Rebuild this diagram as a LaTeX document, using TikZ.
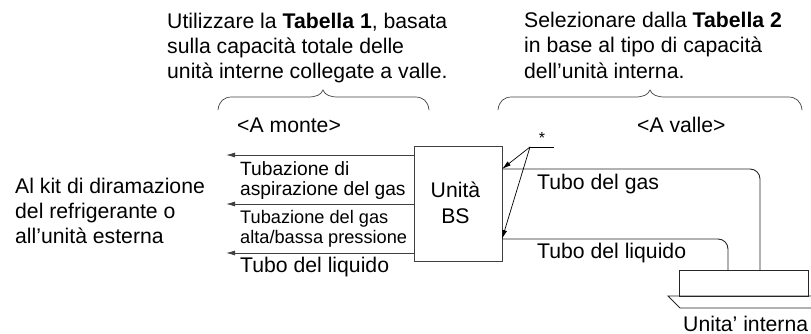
\documentclass[tikz,border=0pt]{standalone}
\usepackage{fontspec}
\setmainfont{Liberation Sans}
\usetikzlibrary{arrows.meta}
\tikzset{
  x=1pt,y=-1pt,
  pipe/.style={draw=black!75,line width=0.9pt},
  flow/.style={pipe,-{Latex[length=9pt,width=5pt]}},
  leader/.style={draw=black,line width=0.7pt,-{Latex[length=9pt,width=5pt]}},
  brace/.style={draw=black!75,line width=0.7pt,rounded corners=0pt},
  lab/.style={inner sep=0pt,anchor=base west,font=\fontsize{21.2}{25}\selectfont},
  multi/.style={inner sep=0pt,anchor=north west,align=left,font=\fontsize{21.2}{25.3}\selectfont},
  smallm/.style={inner sep=0pt,anchor=north west,align=left,font=\fontsize{19.2}{20}\selectfont},
  smallerm/.style={inner sep=0pt,anchor=north west,align=left,font=\fontsize{18.2}{20}\selectfont},
}
\begin{document}
\begin{tikzpicture}
\useasboundingbox (0,0) rectangle (811,334);
% top texts
\node[multi] (t1) at (167,12.5) {Utilizzare la \textbf{Tabella 1}, basata\\sulla capacità totale delle\\unità interne collegate a valle.};
\node[multi] (t2) at (524,12) {Selezionare dalla \textbf{Tabella 2}\\in base al tipo di capacità\\dell’unità interna.};
% braces
\draw[brace] (218,110) .. controls (219,101) and (224,97) .. (232,97) -- (308,97)
  .. controls (316,97) and (321,95) .. (323,90) .. controls (325,95) and (330,97) .. (338,97)
  -- (415,97) .. controls (423,97) and (428,101) .. (429,110);
\draw[brace] (498,110) .. controls (499,101) and (504,97) .. (512,97) -- (635,97)
  .. controls (643,97) and (648,95) .. (650,90) .. controls (652,95) and (657,97) .. (665,97)
  -- (788,97) .. controls (796,97) and (801,101) .. (802,110);
\node[lab] (monte) at (237,132) {<A monte>};
\node[lab] (valle) at (637,132) {<A valle>};
% box
\node[draw=black!75,line width=0.9pt,minimum width=88pt,minimum height=115pt,inner sep=0pt,anchor=north west] (bs) at (414,146) {};
\node[inner sep=0pt,align=center,font=\fontsize{21.2}{26}\selectfont] (bslabel) at ([xshift=-3pt,yshift=1pt]bs.center) {Unità\\BS};
% left arrows
\coordinate (a1) at (226,155);
\coordinate (a2) at (226,204);
\coordinate (a3) at (226,253);
\draw[flow] (bs.west |- a1) -- (a1);
\draw[flow] (bs.west |- a2) -- (a2);
\draw[flow] (bs.west |- a3) -- (a3);
\node[smallm] (l1) at (240,161) {Tubazione di\\aspirazione del gas};
\node[smallerm] (l2) at (240,210.5) {Tubazione del gas\\alta/bassa pressione};
\node[lab] (l3) at (240,272.7) {Tubo del liquido};
\node[multi] (al) at (15,177.5) {Al kit di diramazione\\del refrigerante o\\all’unità esterna};
% indoor unit
\node[draw=black!85,line width=0.8pt,minimum width=129pt,minimum height=26pt,inner sep=0pt,anchor=north west] (iu) at (679,270) {};
\coordinate (p1) at (502,169);
\coordinate (p2) at (502,239);
\coordinate (c1) at (760,169);
\coordinate (c2) at (728,239);
\draw[pipe,draw=black!85,rounded corners=10pt] (p1) -- (c1) -- (c1 |- iu.north);
\draw[pipe,draw=black!85,rounded corners=10pt] (p2) -- (c2) -- (c2 |- iu.north);
\coordinate (b1) at (668,296);
\coordinate (b2) at (811,296);
\coordinate (b3) at (680,308);
\coordinate (b4) at (811,308);
\draw[draw=black!85,line width=0.8pt] (b2) -- (b1) -- (b3) -- (b4);
\node[lab] (ui) at (683,331) {Unita’ interna};
\node[lab] (tg) at (537,189) {Tubo del gas};
\node[lab] (tl) at (537,258) {Tubo del liquido};
% leader
\coordinate (s) at (530,147);
\coordinate (s2) at (554,147);
\draw[draw=black,line width=0.8pt] (s) -- (s2);
\draw[leader] (s) -- (p1);
\draw[leader] (s) -- (p2);
\node[inner sep=0pt,font=\fontsize{16}{16}\selectfont] (star) at (542,138) {*};
\end{tikzpicture}
\end{document}
